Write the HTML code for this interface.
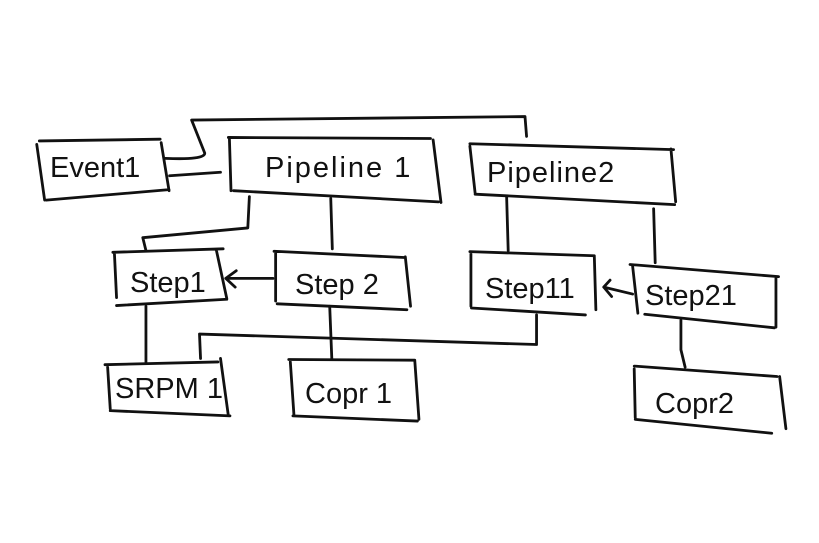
<!DOCTYPE html>
<html><head><meta charset="utf-8"><style>
html,body{margin:0;padding:0;background:#fff;width:819px;height:543px;overflow:hidden}
svg{display:block}
text{font-family:"Liberation Sans",sans-serif;fill:#111;font-size:29px}
path{vector-effect:non-scaling-stroke}
</style></head><body>
<svg width="819" height="543" viewBox="0 0 819 543" xmlns="http://www.w3.org/2000/svg">
<g fill="none" stroke="#111" stroke-width="2.8" stroke-linecap="round" stroke-linejoin="round" transform="scale(0.525,0.348)">
<path d="M75 405 L305 400 M70 415 L85 575 M88 575 L322 545 M307 410 L322 548"/>
<path d="M435 395 L820 398 M437 400 L440 548 M445 548 L835 580 M825 402 L840 582"/>
<path d="M895 413 L1283 430 M895 420 L905 555 M905 558 L1285 588 M1278 428 L1287 580"/>
<path d="M215 725 L425 715 M218 730 L222 855 M222 878 L432 860 M412 718 L432 858"/>
<path d="M522 722 L770 740 M525 727 L525 865 M528 873 L775 890 M772 738 L782 880"/>
<path d="M895 723 L1132 735 M897 730 L897 880 M898 885 L1115 905 M1132 735 L1135 890"/>
<path d="M1200 760 L1483 795 M1205 765 L1215 900 M1228 903 L1475 942 M1478 795 L1478 940"/>
<path d="M200 1048 L415 1040 M205 1055 L210 1175 M210 1180 L438 1195 M420 1030 L435 1195"/>
<path d="M550 1033 L790 1035 M553 1040 L560 1195 M558 1195 L795 1210 M790 1035 L798 1205"/>
<path d="M1208 1052 L1480 1082 M1208 1060 L1210 1200 M1210 1205 L1470 1245 M1485 1082 L1497 1232"/>
<path d="M315 455 Q390 460 390 440 L365 345 L1000 335 L1003 392"/>
<path d="M323 505 L420 495"/>
<path d="M475 565 L472 655 L272 683 L278 720"/>
<path d="M630 570 L633 715"/>
<path d="M520 800 L430 800 M430 800 L450 778 M430 800 L448 825"/>
<path d="M278 880 L278 1040"/>
<path d="M628 880 L632 1030"/>
<path d="M382 1030 L380 960 L1022 990 L1022 905"/>
<path d="M965 565 L968 720"/>
<path d="M1245 600 L1248 755"/>
<path d="M1205 845 L1150 825 M1150 825 L1162 805 M1150 825 L1165 852"/>
<path d="M1297 920 L1297 1005 L1305 1055"/>
</g>
<text x="50" y="177" font-size="27">Event1</text>
<text x="265" y="177" letter-spacing="2">Pipeline 1</text>
<text x="487" y="182" letter-spacing="1">Pipeline2</text>
<text x="130" y="292">Step1</text>
<text x="295" y="294" font-size="31">Step 2</text>
<text x="485" y="298" font-size="32">Step11</text>
<text x="645" y="305" font-size="32">Step21</text>
<text x="115" y="398" font-size="26">SRPM 1</text>
<text x="305" y="403" font-size="31">Copr 1</text>
<text x="655" y="413" font-size="31">Copr2</text>
</svg>
</body></html>
